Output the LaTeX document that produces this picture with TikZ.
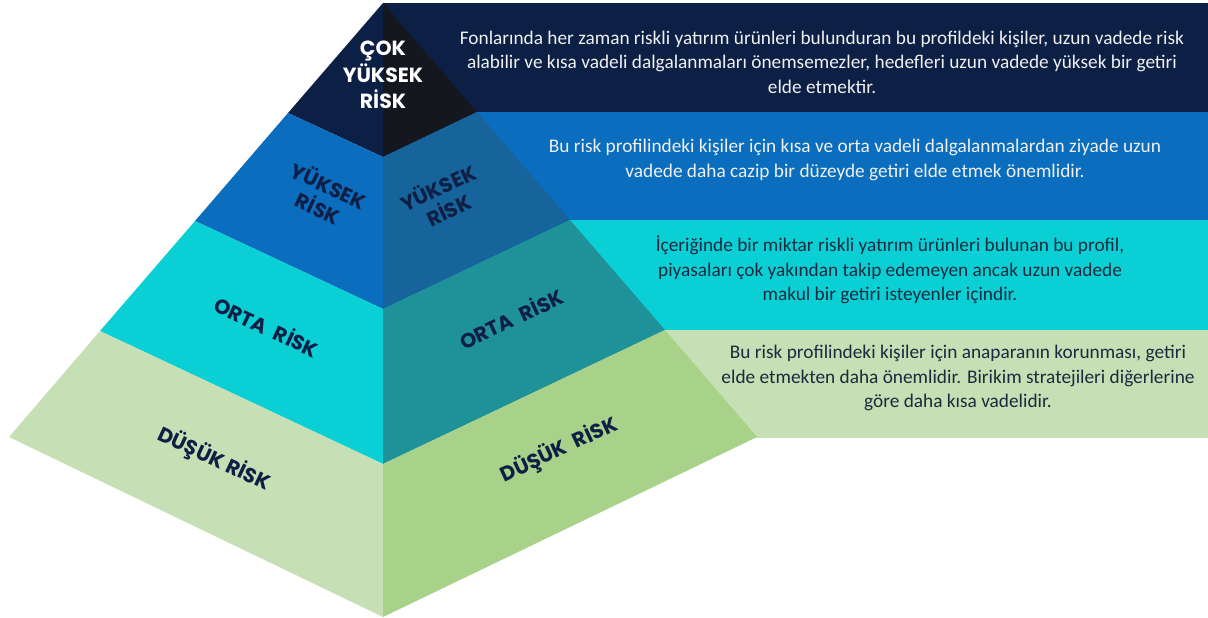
\documentclass[tikz,border=0pt]{standalone}
\usepackage{fontspec}
\setmainfont{Carlito}
\newfontfamily\pop{Poppins}
\definecolor{navy}{HTML}{0C1F45}
\definecolor{navyd}{HTML}{15171F}
\definecolor{blu}{HTML}{0A6DBE}
\definecolor{blud}{HTML}{17639B}
\definecolor{cya}{HTML}{0AD0D6}
\definecolor{cyad}{HTML}{1F9198}
\definecolor{grn}{HTML}{C6DFB4}
\definecolor{grnd}{HTML}{A8D28A}
\definecolor{txtdark}{HTML}{1B2B3F}
\definecolor{lbl}{HTML}{0E1E45}
\tikzset{
  desc/.style={align=center, font=\fontsize{19.3}{24.5}\selectfont, inner sep=0pt},
  desclight/.style={desc, text=white!94!black},
  descdark/.style={desc, text=txtdark},
  plbl/.style={align=center, text=lbl, font=\pop\bfseries\fontsize{20.5}{25}\selectfont, inner sep=0pt},
}
\newcommand{\wsp}{\hspace{0.45em}}
\begin{document}
\begin{tikzpicture}[x=1pt,y=-1pt]
\useasboundingbox (0,0) rectangle (1208,618);
% banners
\fill[navy] (383,3) rectangle (1208,112);
\fill[blu] (383,112) rectangle (1208,220);
\fill[cya] (383,220) rectangle (1208,330);
\fill[grn] (383,330) rectangle (1208,438);
% pyramid points
\coordinate (A) at (383,3);
\coordinate (L) at (9,437);
\coordinate (R) at (757,437);
\coordinate (B) at (383,617);
\coordinate (l1) at (288,113);
\coordinate (l2) at (195,221);
\coordinate (l3) at (100,331);
\coordinate (c1) at (383,157);
\coordinate (c2) at (383,309);
\coordinate (c3) at (383,464);
\coordinate (r1) at (477,112);
\coordinate (r2) at (570,220);
\coordinate (r3) at (665,330);
% faces
\fill[navy] (A) -- (l1) -- (c1) -- cycle;
\fill[navyd] (A) -- (c1) -- (r1) -- cycle;
\fill[blu] (l1) -- (l2) -- (c2) -- (c1) -- cycle;
\fill[blud] (c1) -- (c2) -- (r2) -- (r1) -- cycle;
\fill[cya] (l2) -- (l3) -- (c3) -- (c2) -- cycle;
\fill[cyad] (c2) -- (c3) -- (r3) -- (r2) -- cycle;
\fill[grn] (l3) -- (L) -- (B) -- (c3) -- cycle;
\fill[grnd] (c3) -- (B) -- (R) -- (r3) -- cycle;
% pyramid labels
\node[plbl, text=white, font=\pop\bfseries\fontsize{20.5}{26.5}\selectfont] (top) at (383,75) {ÇOK\\YÜKSEK\\RİSK};
\node[plbl, rotate=-25] (yl) at (324,196) {YÜKSEK\\RİSK};
\node[plbl, rotate=25] (yr) at (443,198) {YÜKSEK\\RİSK};
\node[plbl, rotate=-25] (ol) at (267,326) {ORTA\wsp RİSK};
\node[plbl, rotate=25] (or) at (511,318) {ORTA\wsp RİSK};
\node[plbl, rotate=-25] (dl) at (214,459) {DÜŞÜK RİSK};
\node[plbl, rotate=25] (dr) at (559,450) {DÜŞÜK\wsp RİSK};
% descriptions
\node[desclight] (t1) at (822,62) {Fonlarında her zaman riskli yatırım ürünleri bulunduran bu profildeki kişiler, uzun vadede risk\\alabilir ve kısa vadeli dalgalanmaları önemsemezler, hedefleri uzun vadede yüksek bir getiri\\elde etmektir.};
\node[desclight] (t2) at (855,160) {Bu risk profilindeki kişiler için kısa ve orta vadeli dalgalanmalardan ziyade uzun\\vadede daha cazip bir düzeyde getiri elde etmek önemlidir.};
\node[descdark] (t3) at (890,270) {İçeriğinde bir miktar riskli yatırım ürünleri bulunan bu profil,\\piyasaları çok yakından takip edemeyen ancak uzun vadede\\makul bir getiri isteyenler içindir.};
\node[descdark] (t4) at (958,378) {Bu risk profilindeki kişiler için anaparanın korunması, getiri\\elde etmekten daha önemlidir. Birikim stratejileri diğerlerine\\göre daha kısa vadelidir.};
\end{tikzpicture}
\end{document}
